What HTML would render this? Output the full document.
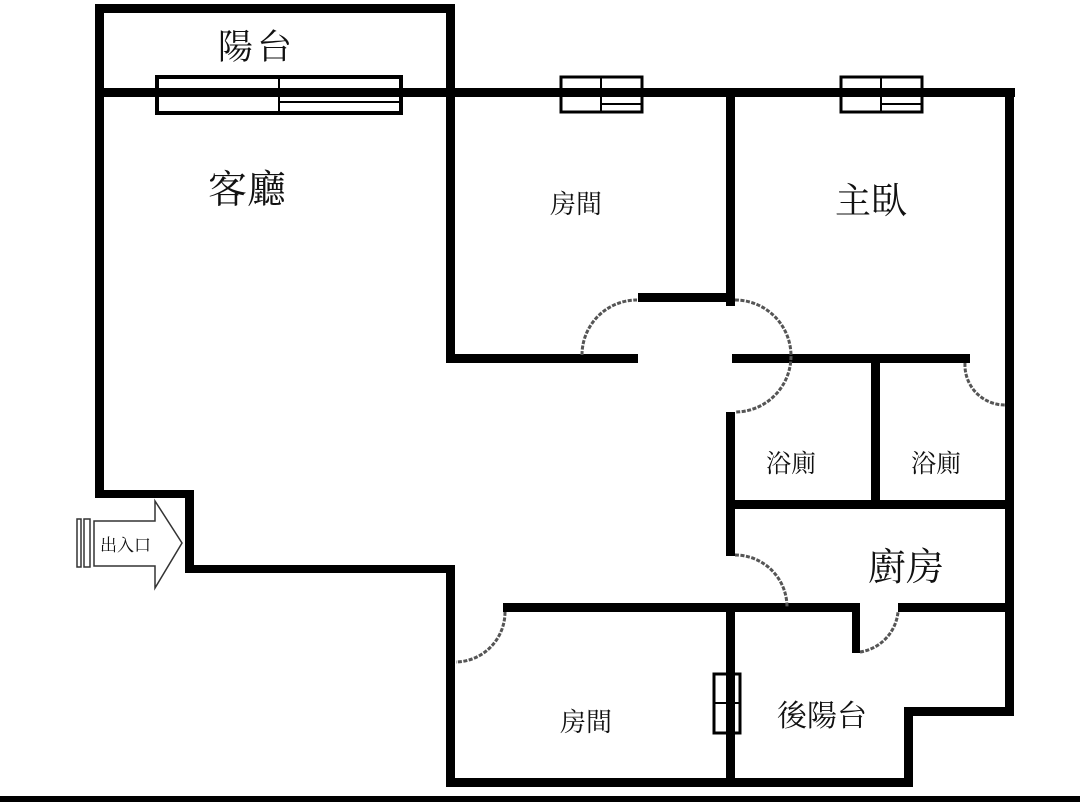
<!DOCTYPE html>
<html><head><meta charset="utf-8"><style>
body{margin:0;width:1080px;height:802px;background:#fff;overflow:hidden}
svg{display:block}
text{font-family:"Liberation Serif","Noto Serif CJK SC","Noto Sans CJK TC",serif;fill:#111}
</style></head><body>
<svg width="1080" height="802" viewBox="0 0 1080 802">
<g fill="#000">
<!-- balcony -->
<rect x="95" y="4" width="359" height="9"/>
<rect x="95" y="4" width="9" height="494"/>
<rect x="446" y="4" width="9" height="359"/>
<!-- main top wall -->
<rect x="95" y="88" width="920" height="9"/>
<!-- right outer -->
<rect x="1005" y="88" width="9" height="627"/>
<rect x="905" y="707" width="109" height="9"/>
<rect x="904" y="707" width="9" height="80"/>
<rect x="446" y="778" width="467" height="9"/>
<!-- room1 -->
<rect x="446" y="354" width="192" height="9"/>
<rect x="726" y="88" width="9" height="218"/>
<rect x="638" y="293" width="97" height="9"/>
<!-- bath -->
<rect x="732" y="354" width="238" height="9"/>
<rect x="726" y="412" width="9" height="144"/>
<rect x="871" y="357" width="9" height="145"/>
<rect x="730" y="500" width="284" height="9"/>
<!-- kitchen / bottom -->
<rect x="503" y="603" width="357" height="9"/>
<rect x="898" y="603" width="116" height="9"/>
<rect x="852" y="603" width="8" height="50"/>
<rect x="726" y="603" width="9" height="184"/>
<!-- left -->
<rect x="95" y="490" width="99" height="8"/>
<rect x="185" y="490" width="9" height="83"/>
<rect x="185" y="565" width="270" height="8"/>
<rect x="446" y="565" width="9" height="222"/>
<!-- bottom bar -->
<rect x="0" y="796" width="1080" height="6"/>
</g>
<!-- windows -->
<g fill="#fff" stroke="#000">
<rect x="157" y="77" width="244" height="36" stroke-width="4"/>
<rect x="561" y="77" width="81" height="35" stroke-width="3"/>
<rect x="841" y="77" width="81" height="35" stroke-width="3"/>
<rect x="714" y="674" width="26" height="59" stroke-width="3"/>
</g>
<g fill="#000">
<rect x="157" y="88" width="244" height="9"/>
<rect x="561" y="88" width="81" height="9"/>
<rect x="841" y="88" width="81" height="9"/>
<rect x="726" y="674" width="9" height="59"/>
</g>
<g stroke="#000" stroke-width="2">
<line x1="279" y1="77" x2="279" y2="113"/><line x1="280" y1="102" x2="400" y2="102"/>
<line x1="601" y1="77" x2="601" y2="112"/><line x1="602" y1="104" x2="641" y2="104"/>
<line x1="881" y1="77" x2="881" y2="112"/><line x1="882" y1="104" x2="921" y2="104"/>
<line x1="715" y1="703" x2="739" y2="703"/>
</g>
<!-- door arcs -->
<g fill="none" stroke="#555" stroke-width="3" stroke-dasharray="4,1.5">
<path d="M582 355 A55 55 0 0 1 637 300"/>
<path d="M735 300 A56 56 0 0 1 735 412"/>
<path d="M965 363 A40 40 0 0 0 1005 405"/>
<path d="M735 555 A52 52 0 0 1 787 607"/>
<path d="M505 612 A50 50 0 0 1 456 662"/>
<path d="M860 652 A45 45 0 0 0 898 612"/>
</g>
<!-- entry arrow -->
<g stroke="#333" fill="none">
<rect x="77" y="519" width="4" height="48" stroke-width="1.5"/>
<rect x="84" y="519" width="6" height="48" stroke-width="1.5"/>
<path d="M94 521 H155 V501 L182 543 L155 588 V566 H94 Z" fill="#fff" stroke-width="1.5"/>
</g>
<text x="100" y="551" font-size="17" font-family="Liberation Sans,Noto Sans CJK TC,sans-serif">出入口</text>
<!-- labels -->
<text x="218" y="59" font-size="35" letter-spacing="4">陽台</text>
<text x="208" y="203" font-size="39">客廳</text>
<text x="550" y="213" font-size="26">房間</text>
<text x="835" y="213" font-size="36">主臥</text>
<text x="766" y="472" font-size="25">浴廁</text>
<text x="911" y="472" font-size="25">浴廁</text>
<text x="868" y="580" font-size="38">廚房</text>
<text x="560" y="731" font-size="26">房間</text>
<text x="777" y="726" font-size="30">後陽台</text>
</svg>
</body></html>
